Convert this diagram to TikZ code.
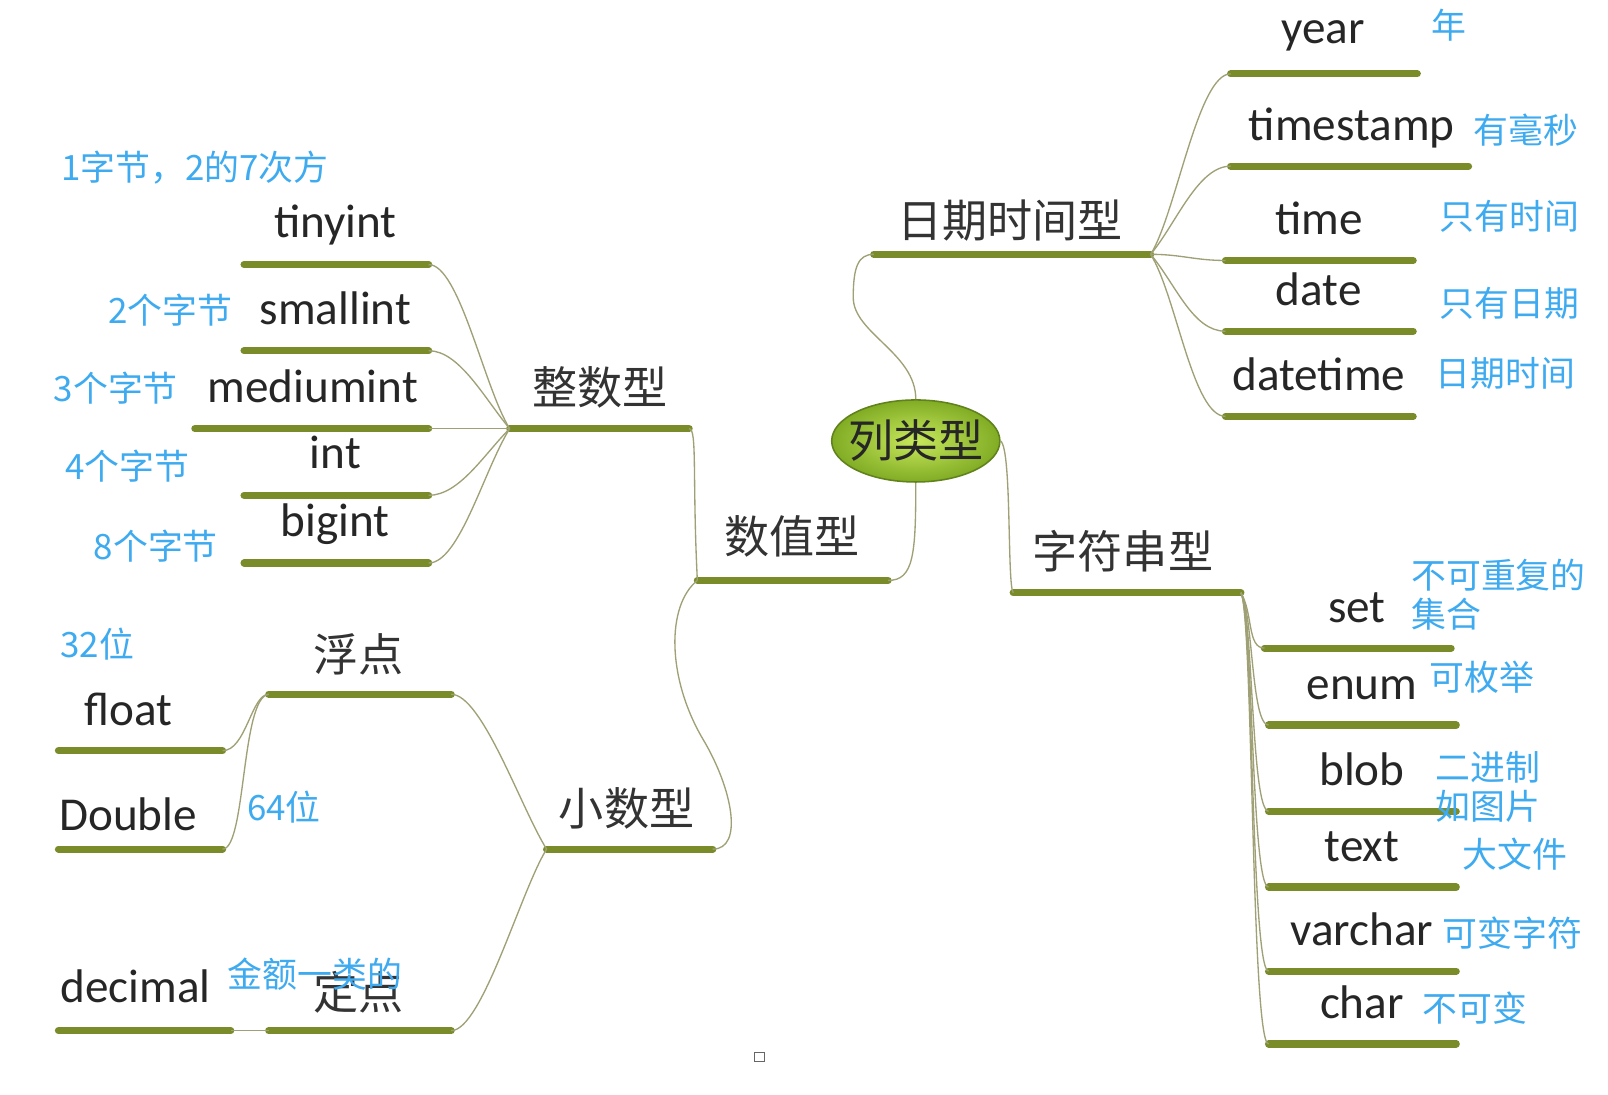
\documentclass[tikz,border=0pt]{standalone}
\usepackage{fontspec}
\setmainfont{Carlito}
\newfontfamily\cjk{Noto Sans CJK SC}
\usetikzlibrary{shapes.geometric}
\definecolor{barolive}{RGB}{122,140,42}
\definecolor{twiggrey}{RGB}{160,160,118}
\definecolor{noteblue}{RGB}{62,170,240}
\definecolor{rootlight}{RGB}{200,232,92}
\definecolor{rootdark}{RGB}{128,172,36}
\tikzset{
  olivebar/.style={draw=barolive,line width=7pt,line cap=round},
  twig/.style={draw=twiggrey,line width=1.3pt},
  en/.style={font=\fontsize{46}{50}\selectfont,text=black!85,inner sep=0pt,anchor=base},
  zh/.style={font=\cjk\fontsize{44}{48}\selectfont,text=black!80,inner sep=0pt},
  note/.style={font=\cjk\fontsize{34}{38}\selectfont,text=noteblue,inner sep=0pt},
}

\begin{document}
\begin{tikzpicture}[x=1pt,y=-1pt]
          \fill[white] (0,0) rectangle (1568,1067);
          \useasboundingbox (0,0) rectangle (1568,1067);
          % root
          \node[ellipse,shading=radial,inner color=rootlight,outer color=rootdark,draw=rootdark!75!black,line width=1.5pt,
                minimum width=164pt,minimum height=80pt,inner sep=0pt] (root) at (893,430) {};
          \node[font=\cjk\fontsize{44}{48}\selectfont,text=black!85,inner sep=0pt] (rootlabel) at (root) {列类型};
          % date and time
          \coordinate (dtmL) at (852,248); \coordinate (dtmR) at (1122,248);
          \coordinate (yearL) at (1200,72); \coordinate (yearR) at (1382,72);
          \coordinate (tsL) at (1200,162); \coordinate (tsR) at (1432,162);
          \coordinate (timeL) at (1195,254); \coordinate (timeR) at (1378,254);
          \coordinate (dayL) at (1195,323); \coordinate (dayR) at (1378,323);
          \coordinate (dtL) at (1195,406); \coordinate (dtR) at (1378,406);
          \draw[olivebar] (dtmL) -- (dtmR);
          \draw[olivebar] (yearL) -- (yearR);
          \draw[olivebar] (tsL) -- (tsR);
          \draw[olivebar] (timeL) -- (timeR);
          \draw[olivebar] (dayL) -- (dayR);
          \draw[olivebar] (dtL) -- (dtR);
          \node[zh] (dtm) at (985,215) {日期时间型};
          \node[en] (year) at (1290,42) {year};
          \node[en] (ts) at (1318,137) {timestamp};
          \node[en] (time) at (1286,229) {time};
          \node[en] (day) at (1286,298) {date};
          \node[en] (dt) at (1286,381) {datetime};
          \node[note] (yearn) at (1413,25) {年};
          \node[note] (tsn) at (1488,127) {有毫秒};
          \node[note] (timen) at (1472,211) {只有时间};
          \node[note] (dayn) at (1472,296) {只有日期};
          \node[note] (dtn) at (1468,364) {日期时间};
          \draw[twig] (root.north) .. controls +(0,-45) and +(0,35) .. (832,290) .. controls +(0,-30) and +(-15,0) .. (dtmL);
          \draw[twig] (dtmR) .. controls +(25,-40) and +(-32,0) .. (yearL);
          \draw[twig] (dtmR) .. controls +(25,-30) and +(-32,0) .. (tsL);
          \draw[twig] (dtmR) .. controls +(30,0) and +(-30,0) .. (timeL);
          \draw[twig] (dtmR) .. controls +(25,30) and +(-32,0) .. (dayL);
          \draw[twig] (dtmR) .. controls +(25,40) and +(-32,0) .. (dtL);
          % numbers
          \coordinate (numL) at (680,566); \coordinate (numR) at (866,566);
          \coordinate (intL) at (497,418); \coordinate (intR) at (672,418);
          \coordinate (decL) at (533,828); \coordinate (decR) at (695,828);
          \draw[olivebar] (numL) -- (numR);
          \draw[olivebar] (intL) -- (intR);
          \draw[olivebar] (decL) -- (decR);
          \node[zh] (num) at (772,523) {数值型};
          \node[zh] (int) at (585,378) {整数型};
          \node[zh] (dec) at (611,788) {小数型};
          \draw[twig] (root.south) .. controls +(0,70) and +(25,0) .. (numR);
          \draw[twig] (numL) .. controls +(-5,-100) and +(8,0) .. (intR);
          \draw[twig] (numL) .. controls (650,590) and (650,660) .. (685,720) .. controls (715,770) and (725,828) .. (decR);
          % integers
          \coordinate (tinyL) at (238,258); \coordinate (tinyR) at (418,258);
          \coordinate (smallL) at (238,342); \coordinate (smallR) at (418,342);
          \coordinate (medL) at (190,418); \coordinate (medR) at (418,418);
          \coordinate (plainL) at (238,483); \coordinate (plainR) at (418,483);
          \coordinate (bigL) at (238,549); \coordinate (bigR) at (418,549);
          \draw[olivebar] (tinyL) -- (tinyR);
          \draw[olivebar] (smallL) -- (smallR);
          \draw[olivebar] (medL) -- (medR);
          \draw[olivebar] (plainL) -- (plainR);
          \draw[olivebar] (bigL) -- (bigR);
          \node[en] (tiny) at (327,232) {tinyint};
          \node[en] (small) at (327,316) {smallint};
          \node[en] (med) at (305,392) {mediumint};
          \node[en] (plain) at (327,457) {int};
          \node[en] (big) at (327,523) {bigint};
          \node[note] (tinyn) at (190,163) {1字节，2的7次方};
          \node[note] (smalln) at (166,302) {2个字节};
          \node[note] (medn) at (113,378) {3个字节};
          \node[note] (plainn) at (124,455) {4个字节};
          \node[note] (bign) at (152,533) {8个字节};
          \draw[twig] (intL) .. controls +(-25,-40) and +(30,0) .. (tinyR);
          \draw[twig] (intL) .. controls +(-25,-30) and +(30,0) .. (smallR);
          \draw[twig] (intL) -- (medR);
          \draw[twig] (intL) .. controls +(-25,25) and +(30,0) .. (plainR);
          \draw[twig] (intL) .. controls +(-25,40) and +(30,0) .. (bigR);
          % decimals
          \coordinate (floatpL) at (262,677); \coordinate (floatpR) at (440,677);
          \coordinate (fixL) at (262,1005); \coordinate (fixR) at (440,1005);
          \coordinate (floatL) at (57,732); \coordinate (floatR) at (217,732);
          \coordinate (dblL) at (57,828); \coordinate (dblR) at (217,828);
          \coordinate (decimalL) at (57,1005); \coordinate (decimalR) at (225,1005);
          \draw[olivebar] (floatpL) -- (floatpR);
          \draw[olivebar] (fixL) -- (fixR);
          \draw[olivebar] (floatL) -- (floatR);
          \draw[olivebar] (dblL) -- (dblR);
          \draw[olivebar] (decimalL) -- (decimalR);
          \node[zh] (floatp) at (350,638) {浮点};
          \node[zh] (fix) at (350,968) {定点};
          \node[en] (float) at (125,707) {float};
          \node[en] (dbl) at (125,810) {Double};
          \node[en] (decimal) at (132,978) {decimal};
          \node[note] (floatn) at (95,628) {32位};
          \node[note] (dbln) at (277,787) {64位};
          \node[note] (decimaln) at (307,950) {金额一类的};
          \draw[twig] (decL) .. controls +(-25,-40) and +(30,0) .. (floatpR);
          \draw[twig] (decL) .. controls +(-25,40) and +(30,0) .. (fixR);
          \draw[twig] (floatpL) .. controls (245,677) and (240,732) .. (floatR);
          \draw[twig] (floatpL) .. controls (235,680) and (240,828) .. (dblR);
          \draw[twig] (fixL) -- (decimalR);
          % strings
          \coordinate (strL) at (988,578); \coordinate (strR) at (1210,578);
          \coordinate (setL) at (1233,632); \coordinate (setR) at (1415,632);
          \coordinate (enumL) at (1237,707); \coordinate (enumR) at (1420,707);
          \coordinate (blobL) at (1237,791); \coordinate (blobR) at (1420,791);
          \coordinate (textL) at (1237,865); \coordinate (textR) at (1420,865);
          \coordinate (varL) at (1237,947); \coordinate (varR) at (1420,947);
          \coordinate (charL) at (1237,1018); \coordinate (charR) at (1420,1018);
          \draw[olivebar] (strL) -- (strR);
          \draw[olivebar] (setL) -- (setR);
          \draw[olivebar] (enumL) -- (enumR);
          \draw[olivebar] (blobL) -- (blobR);
          \draw[olivebar] (textL) -- (textR);
          \draw[olivebar] (varL) -- (varR);
          \draw[olivebar] (charL) -- (charR);
          \node[zh] (str) at (1095,537) {字符串型};
          \node[en] (set) at (1323,607) {set};
          \node[en] (enum) at (1328,682) {enum};
          \node[en] (blob) at (1328,766) {blob};
          \node[en] (text) at (1328,840) {text};
          \node[en] (var) at (1328,922) {varchar};
          \node[en] (char) at (1328,993) {char};
          \node[note,anchor=west,align=left] (setn) at (1376,580) {不可重复的\\集合};
          \node[note] (enumn) at (1445,660) {可枚举};
          \node[note,anchor=west,align=left] (blobn) at (1400,767) {二进制\\如图片};
          \node[note] (textn) at (1477,833) {大文件};
          \node[note] (varn) at (1475,910) {可变字符};
          \node[note] (charn) at (1438,983) {不可变};
          \draw[twig] (root.east) .. controls +(11,8) and +(-6,-8) .. (strL);
          \draw[twig] (strR) .. controls +(12,20) and +(-17,0) .. (setL);
          \draw[twig] (strR) .. controls +(12,20) and +(-17,0) .. (enumL);
          \draw[twig] (strR) .. controls +(12,20) and +(-17,0) .. (blobL);
          \draw[twig] (strR) .. controls +(12,20) and +(-17,0) .. (textL);
          \draw[twig] (strR) .. controls +(12,20) and +(-17,0) .. (varL);
          \draw[twig] (strR) .. controls +(12,20) and +(-17,0) .. (charL);
          % stray mark
          \draw[black!60,line width=0.8pt] (736,1026) rectangle (745,1035);
\end{tikzpicture}
\end{document}
